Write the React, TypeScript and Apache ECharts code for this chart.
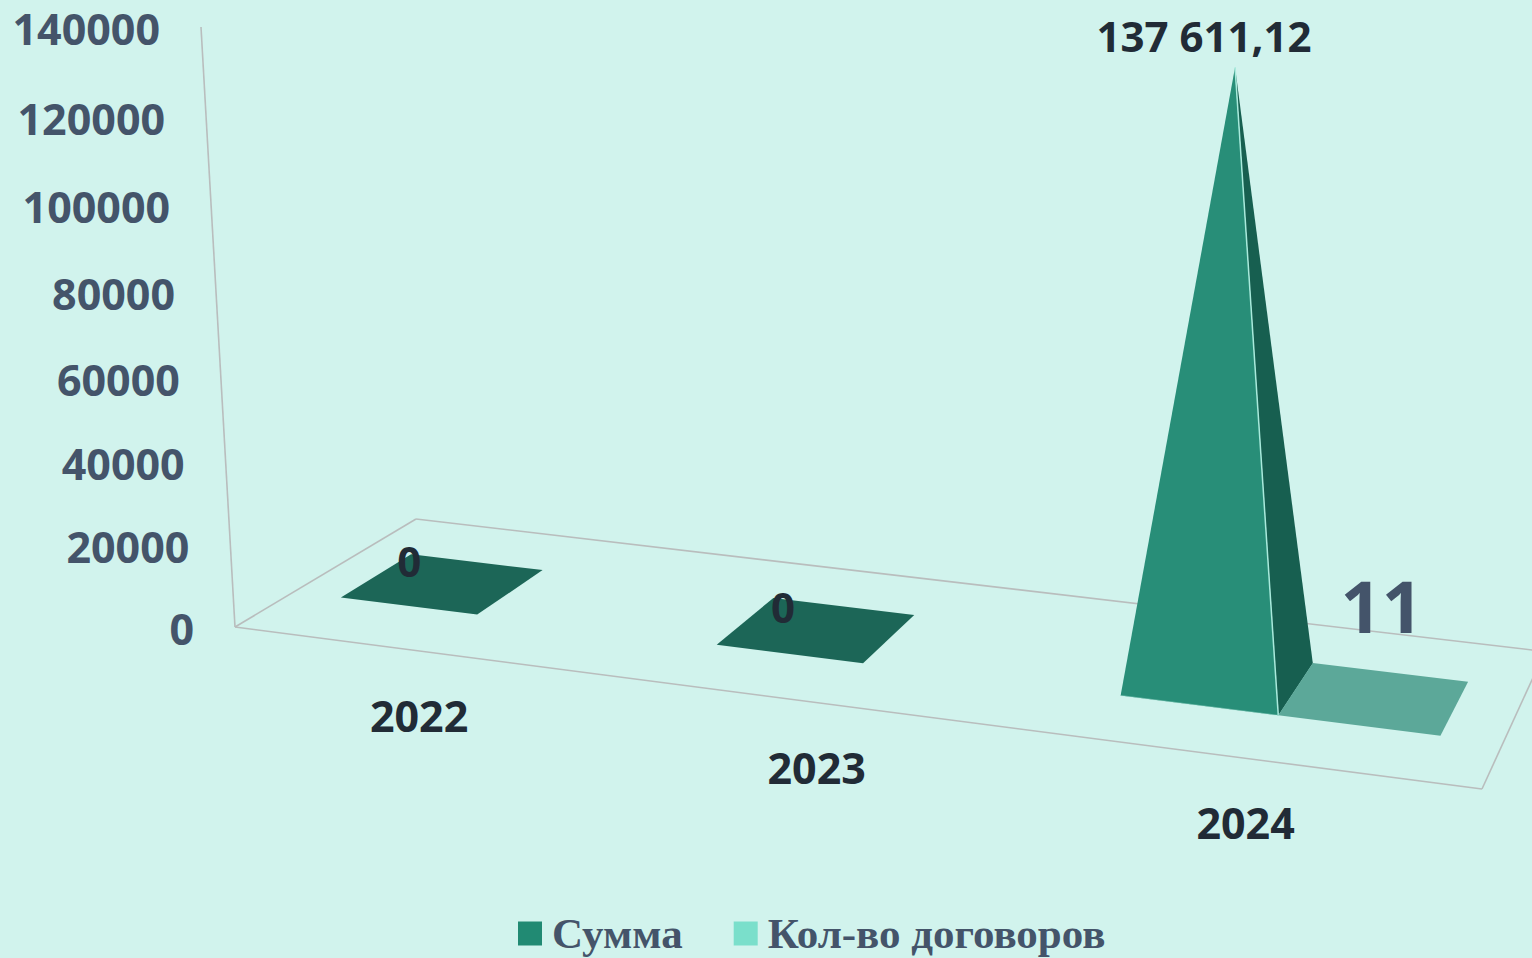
import React, { useEffect, useRef } from "react";
import * as echarts from "echarts";

const categories = ["2022", "2023", "2024"];
const sumValues = [0, 0, 137611.12];
const countValues: (number | null)[] = [null, null, 11];
const sumLabels = ["0", "0", "137 611,12"];
const countLabels = ["", "", "11"];
const yTicks = [0, 20000, 40000, 60000, 80000, 100000, 120000, 140000];
const Y_MAX = 140000;

const BG = "#d1f3ed";
const LINE = "#b9bdbd";
const SLATE = "#44546a";
const DARK = "#212b36";
const LABEL_FONT = '"Open Sans", sans-serif';

// Perspective: maps (u across, v depth, h height), all 0..1, to the screen.
const project = (u: number, v: number, h: number): number[] => {
  const k = -0.05176 * h;
  const w = 1 - 0.10802 * u + 0.11055 * v + k;
  const x = 1086.9 * u + 226.99 * v + 235 + k * 858;
  const y = 76.77 * u - 50.63 * v + 627 + k * 11619;
  return [x / w, y / w];
};

const BAR_U = 0.1232;
const V_FRONT = 0.305;
const V_BACK = 0.703;
const V_MID = (V_FRONT + V_BACK) / 2;
const PEAK_STRETCH = 1.012;
const APEX_LEAN = -0.0025;

type BarStyle = {
  side: number;
  front: string;
  right: string;
  plate: string;
  edge: string;
  tallDx: number;
  tallDy: number;
  flatDx: number;
  flatDy: number;
  font: string;
  labelFill: string;
  labels: string[];
};

const barRenderer = (s: BarStyle) => (params: any, api: any) => {
  const value = api.value(1);
  if (value === null || value === undefined || Number.isNaN(value)) return null;
  const W = api.getWidth();
  const H = api.getHeight();
  const at = api.coord([api.value(0), value]);
  const c = at[0] / W;
  const h = (1 - at[1] / H) * PEAK_STRETCH;
  const u0 = s.side < 0 ? c - BAR_U : c;
  const u1 = u0 + BAR_U;
  const fl = project(u0, V_FRONT, 0);
  const fr = project(u1, V_FRONT, 0);
  const br = project(u1, V_BACK, 0);
  const bl = project(u0, V_BACK, 0);
  const apex = project((u0 + u1) / 2 + APEX_LEAN, V_MID, h);
  const floorCentre = project((u0 + u1) / 2, V_MID, 0);
  const tall = h > 0.02;
  const children: any[] = [
    { type: "polygon", shape: { points: [fl, fr, br, bl] }, style: { fill: s.plate } },
  ];
  if (tall) {
    children.push(
      { type: "polygon", shape: { points: [fr, br, apex] }, style: { fill: s.right } },
      { type: "polygon", shape: { points: [fl, fr, apex] }, style: { fill: s.front } },
      {
        type: "line",
        shape: { x1: fr[0], y1: fr[1], x2: apex[0], y2: apex[1] },
        style: { stroke: s.edge, lineWidth: 1.5 },
      },
      {
        type: "line",
        shape: { x1: fl[0], y1: fl[1], x2: fr[0], y2: fr[1] },
        style: { stroke: s.edge, lineWidth: 1, opacity: 0.5 },
      }
    );
  }
  const anchor = tall ? apex : floorCentre;
  children.push({
    type: "text",
    z2: 10,
    style: {
      text: s.labels[params.dataIndex],
      x: anchor[0] + (tall ? s.tallDx : s.flatDx),
      y: anchor[1] + (tall ? s.tallDy : s.flatDy),
      align: "center",
      verticalAlign: "middle",
      fill: s.labelFill,
      font: s.font,
    },
  });
  return { type: "group", children };
};

const frameRenderer = () => {
  const a = project(0, 0, 0);
  const top = project(0, 0, 1);
  const b = project(1, 0, 0);
  const c = project(1, 1, 0);
  const d = project(0, 1, 0);
  const seg = (p: number[], q: number[]) => ({
    type: "line",
    shape: { x1: p[0], y1: p[1], x2: q[0], y2: q[1] },
    style: { stroke: LINE, lineWidth: 1.6 },
  });
  return {
    type: "group",
    children: [seg(a, top), seg(a, b), seg(a, d), seg(d, c), seg(b, c)],
  };
};

const yTickRenderer = (_params: any, api: any) => {
  const value = api.value(0);
  const pos = api.coord([0, value]);
  const p = project(0, 0, 1 - pos[1] / api.getHeight());
  return {
    type: "text",
    style: {
      text: String(value),
      x: p[0] - 41,
      y: p[1] + 1.5,
      align: "right",
      verticalAlign: "middle",
      fill: SLATE,
      font: `700 43px ${LABEL_FONT}`,
    },
  };
};

const xLabelRenderer = (params: any, api: any) => {
  const pos = api.coord([api.value(0), 0]);
  const p = project(pos[0] / api.getWidth(), 0, 0);
  return {
    type: "text",
    style: {
      text: categories[params.dataIndex],
      x: p[0] - 4,
      y: p[1] + 64,
      align: "center",
      verticalAlign: "middle",
      fill: DARK,
      font: `700 43px ${LABEL_FONT}`,
    },
  };
};

export default function App() {
  const ref = useRef<HTMLDivElement>(null);
  useEffect(() => {
    const chart = echarts.init(ref.current!, undefined, { renderer: "svg" });
    chart.setOption({
      animation: false,
      backgroundColor: BG,
      grid: { left: 0, right: 5.5, top: 0, bottom: 0 },
      xAxis: { type: "category", data: categories, show: false },
      yAxis: { type: "value", min: 0, max: Y_MAX, interval: 20000, show: false },
      legend: {
        data: ["Сумма", "Кол-во договоров"],
        left: 518,
        top: 912,
        padding: 0,
        icon: "rect",
        itemWidth: 24,
        itemHeight: 24,
        itemGap: 51,
        selectedMode: false,
        textStyle: {
          color: SLATE,
          fontFamily: '"Liberation Serif", serif',
          fontWeight: 700,
          fontSize: 43,
          padding: [0, 0, 0, 5],
        },
      },
      series: [
        {
          type: "custom",
          name: "frame",
          silent: true,
          clip: false,
          z: 1,
          data: [[0]],
          renderItem: frameRenderer,
        },
        {
          type: "custom",
          name: "yTicks",
          silent: true,
          z: 2,
          encode: { y: 0 },
          data: yTicks.map((t) => [t]),
          renderItem: yTickRenderer,
        },
        {
          type: "custom",
          name: "categories",
          silent: true,
          z: 2,
          data: categories.map((_, i) => [i]),
          renderItem: xLabelRenderer,
        },
        {
          type: "custom",
          name: "Сумма",
          z: 3,
          itemStyle: { color: "#218a73" },
          encode: { x: 0, y: 1 },
          data: categories.map((_, i) => [i, sumValues[i]]),
          renderItem: barRenderer({
            side: -1,
            front: "#288e78",
            right: "#175f50",
            plate: "#1c6657",
            edge: "#a9eadc",
            tallDx: -31,
            tallDy: -32,
            flatDx: -34,
            flatDy: -23,
            font: `700 42px ${LABEL_FONT}`,
            labelFill: DARK,
            labels: sumLabels,
          }),
        },
        {
          type: "custom",
          name: "Кол-во договоров",
          z: 4,
          itemStyle: { color: "#7adfcb" },
          encode: { x: 0, y: 1 },
          data: categories.map((_, i) => [i, countValues[i]]),
          renderItem: barRenderer({
            side: 1,
            front: "#7adfcb",
            right: "#4f9e8e",
            plate: "#5ca899",
            edge: "#a9eadc",
            tallDx: 7,
            tallDy: -93,
            flatDx: 7,
            flatDy: -93,
            font: `700 72px ${LABEL_FONT}`,
            labelFill: SLATE,
            labels: countLabels,
          }),
        },
      ],
    });
    return () => chart.dispose();
  }, []);
  return (
    <div
      ref={ref}
      style={{ position: "fixed", left: 0, top: 0, width: 1532, height: 958 }}
    />
  );
}
